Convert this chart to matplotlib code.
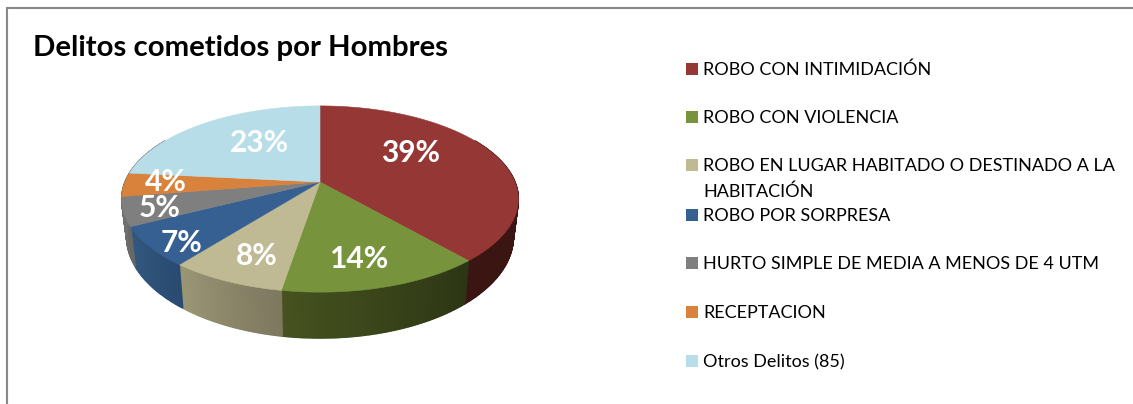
import numpy as np
import matplotlib
matplotlib.use('Agg')
import matplotlib.pyplot as plt
from matplotlib.colors import to_rgb
from matplotlib.patches import Polygon, Rectangle

plt.rcParams['font.family'] = ['Lato', 'DejaVu Sans']

title = 'Delitos cometidos por Hombres'
categories = ['ROBO CON INTIMIDACIÓN', 'ROBO CON VIOLENCIA',
              'ROBO EN LUGAR HABITADO O DESTINADO A LA\nHABITACIÓN',
              'ROBO POR SORPRESA', 'HURTO SIMPLE DE MEDIA A MENOS DE 4 UTM',
              'RECEPTACION', 'Otros Delitos (85)']
shares = [38.6, 14.0, 8.0, 6.9, 5.0, 4.1, 23.4]
colors = ['#953735', '#77933c', '#c0ba94', '#376092', '#7f7f7f', '#d9823c', '#b7dde8']
side_left = ['#3a1512', '#46521f', '#9b9675', '#33587f', '#707070', '#707070', '#707070']
side_right = ['#3a1512', '#2c3514', '#7c775e', '#2a4a70', '#666666', '#707070', '#707070']

# pixel layout of the fake 3d pie
CX, CY = 320, 182
RX, RY, PERSP = 195, 90, 0.183
# label centres, same order as shares
label_pos = [(411, 153), (359, 259), (257, 256), (182, 243), (160, 208), (166, 182), (259, 143)]


def project(t, r=1.0):
    """ t is the clockwise angle from the top of the disc, in degrees """
    rad = np.radians(t)
    xx = r * np.sin(rad)
    yy = r * np.cos(rad)
    w = 1 + PERSP * yy
    return CX + RX * xx / w, CY - RY * yy / w


def project_bottom(t):
    x, y = project(t)
    return CX + (x - CX) * 0.975, CY + (y - CY) * 1.09 + 36


fig = plt.figure(figsize=(11.33, 4.04), dpi=100)
ax = fig.add_axes([0, 0, 1, 1])
ax.set_xlim(0, 1133)
ax.set_ylim(404, 0)
ax.axis('off')

# frame, only top and left are in the picture
ax.plot([7, 7, 1133], [404, 8, 8], color='#888888', lw=1.5, solid_joinstyle='miter')

ax.text(33, 48, title, fontsize=21.2, fontweight='bold', color='black', va='center', ha='left')

edges = np.concatenate([[0], np.cumsum(shares)]) / np.sum(shares) * 360

# side wall first, top face goes over it
for i in range(len(shares)):
    t0, t1 = max(edges[i], 60), min(edges[i + 1], 300)
    if t1 <= t0:
        continue
    steps = np.linspace(t0, t1, int(t1 - t0) * 2 + 2)
    for a, b in zip(steps[:-1], steps[1:]):
        # angle runs right to left along the front of the pie
        f = (b - t0) / (t1 - t0)
        col = np.array(to_rgb(side_right[i])) * (1 - f) + np.array(to_rgb(side_left[i])) * f
        pts = [project(a), project(b), project_bottom(b), project_bottom(a)]
        ax.add_patch(Polygon(pts, closed=True, facecolor=col, edgecolor=col, lw=1.0))

for i in range(len(shares)):
    ts = np.linspace(edges[i], edges[i + 1], 80)
    xs, ys = project(ts)
    pts = [(CX, CY)] + list(zip(xs, ys))
    ax.add_patch(Polygon(pts, closed=True, facecolor=colors[i], edgecolor=colors[i], lw=0.4))

for (x, y), s in zip(label_pos, shares):
    ax.text(x, y, f'{s:.0f}%', fontsize=21.5, fontweight='bold', color='white', ha='center', va='center')

# legend
row_y = [69, 117, 165, 215, 263, 312, 361]
for name, col, y in zip(categories, colors, row_y):
    ax.add_patch(Rectangle((686, y - 6), 12, 12, facecolor=col, edgecolor='none'))
    for k, line in enumerate(name.split('\n')):
        ax.text(703, y + 1 + k * 26, line, fontsize=13.0, color='#000000', va='center', ha='left')

fig.savefig('out.png', dpi=100)
